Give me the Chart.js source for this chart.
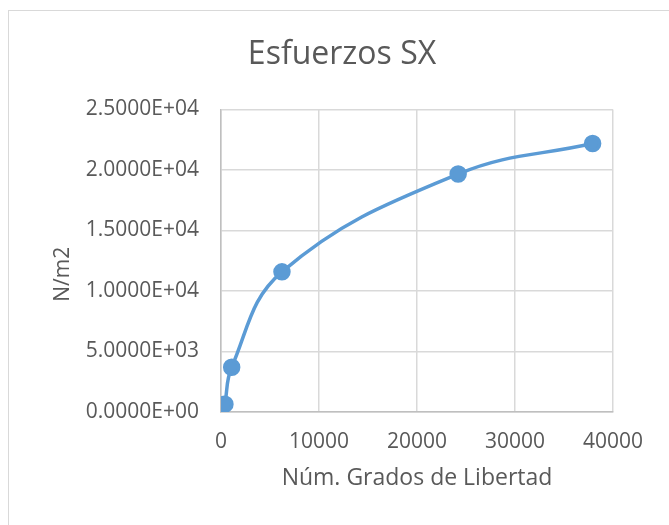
<!DOCTYPE html>
<html>
<head>
<meta charset="utf-8">
<script src="https://cdn.jsdelivr.net/npm/chart.js@4.4.0/dist/chart.umd.min.js"></script>
<style>
  html, body { margin: 0; padding: 0; background: #fff; overflow: hidden; }
  #frame { position: absolute; left: 8px; top: 10px; width: 720px; height: 600px; border: 1px solid #d9d9d9; }
  #wrap { position: absolute; left: 0; top: 0; width: 669px; height: 525px; }
</style>
</head>
<body>
<div id="frame"></div>
<div id="wrap"><canvas id="sxChart"></canvas></div>
<script>
// grados de libertad vs esfuerzo SX
var grados = [400, 1090, 6220, 24200, 37920];
var esfuerzos = [650, 3700, 11580, 19660, 22180];
var xTicks = [0, 10000, 20000, 30000, 40000];
var yTicks = [0, 5000, 10000, 15000, 20000, 25000];

var textColor = '#595959';
var gridColor = '#d9d9d9';
var fontName = "'Open Sans', sans-serif";

function sci(v) {
     var s = Number(v).toExponential(4).split('e');
     var exp = parseInt(s[1], 10);
     var sign = exp < 0 ? '-' : '+';
     exp = Math.abs(exp);
     return s[0] + 'E' + sign + (exp < 10 ? '0' + exp : exp);
}

var puntos = grados.map(function (g, i) { return { x: g, y: esfuerzos[i] }; });

var ctx = document.getElementById('sxChart').getContext('2d');
var sxChart = new Chart(ctx, {
     type: 'scatter',
     data: {
          datasets: [{
               label: 'SX',
               data: puntos,
               showLine: true,
               tension: 0.4,
               borderColor: '#5b9bd5',
               backgroundColor: '#5b9bd5',
               borderWidth: 3.5,
               pointRadius: 7,
               pointHoverRadius: 7
          }]
     },
     options: {
          responsive: true,
          maintainAspectRatio: false,
          animation: false,
          layout: { padding: { left: 15, right: 0, top: 0, bottom: 0 } },
          plugins: {
               legend: { display: false },
               tooltip: { enabled: false },
               title: {
                    display: true,
                    text: 'Esfuerzos SX',
                    color: textColor,
                    font: { family: fontName, size: 32, weight: 'normal' },
                    padding: { top: 36, bottom: 35 }
               }
          },
          scales: {
               x: {
                    type: 'linear',
                    min: 0,
                    max: 40000,
                    afterBuildTicks: function (axis) { axis.ticks = xTicks.map(function (v) { return { value: v }; }); },
                    afterFit: function (axis) { axis.height = 113; },
                    grid: { color: gridColor, lineWidth: 1.5, drawTicks: false },
                    border: { color: '#bfbfbf', width: 1.5 },
                    ticks: {
                         color: textColor,
                         padding: 17,
                         font: { family: fontName, size: 21 },
                         maxRotation: 0,
                         callback: function (v) { return String(v); }
                    },
                    title: {
                         display: true,
                         text: 'Núm. Grados de Libertad',
                         color: textColor,
                         font: { family: fontName, size: 23 },
                         padding: { top: 0, bottom: 33 }
                    }
               },
               y: {
                    type: 'linear',
                    min: 0,
                    max: 25000,
                    afterBuildTicks: function (axis) { axis.ticks = yTicks.map(function (v) { return { value: v }; }); },
                    afterFit: function (axis) { axis.width = 206; },
                    grid: { color: gridColor, lineWidth: 1.5, drawTicks: false },
                    border: { color: '#bfbfbf', width: 1.5 },
                    ticks: {
                         color: textColor,
                         padding: 22,
                         font: { family: fontName, size: 21 },
                         callback: function (v) { return sci(v); }
                    },
                    title: {
                         display: true,
                         text: 'N/m2     ',
                         color: textColor,
                         font: { family: fontName, size: 21 },
                         padding: { top: 35, bottom: 0 }
                    }
               },
               // empty right margin so the title centres over the whole chart box
               margen: {
                    type: 'linear',
                    position: 'right',
                    display: true,
                    afterFit: function (axis) { axis.width = 56; },
                    grid: { display: false },
                    border: { display: false },
                    ticks: { display: false }
               }
          }
     }
});
</script>
</body>
</html>
